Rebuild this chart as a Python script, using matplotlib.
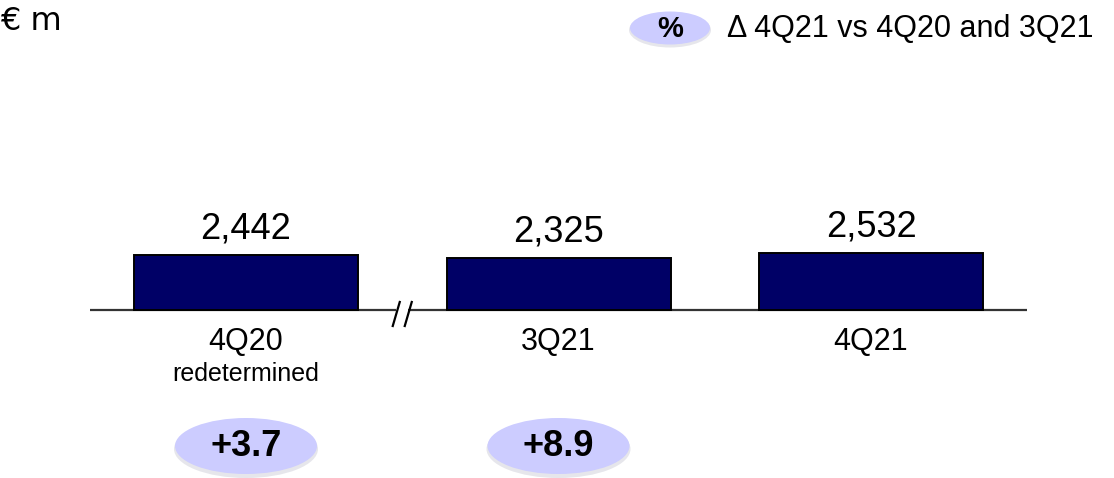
import matplotlib
matplotlib.use("Agg")
import matplotlib.pyplot as plt
from matplotlib.patches import Ellipse
from matplotlib.transforms import blended_transform_factory

# Quarterly figures, € m
categories = ["4Q20", "3Q21", "4Q21"]
subtitles = ["redetermined", "", ""]
values = [2442, 2325, 2532]
value_labels = ["2,442", "2,325", "2,532"]
# Change of 4Q21 versus each earlier quarter, %
deltas = ["+3.7", "+8.9", None]

W, H = 1114, 478
fig = plt.figure(figsize=(W / 100, H / 100), dpi=100)
ax = fig.add_axes([0, 0, 1, 1])
ax.set_axis_off()

plt.rcParams["font.family"] = ["Liberation Sans", "DejaVu Sans"]

# Layout: bar slots 312.5 px apart, baseline 168 px above the bottom edge
slot = 312.5
x0 = 246
units_per_px = 44.6
ax.set_xlim(-x0 / slot, (W - x0) / slot)
ax.set_ylim(-168 * units_per_px, (H - 168) * units_per_px)

xs = list(range(len(categories)))
bars = ax.bar(xs, values, width=224 / slot, color="#000066",
              edgecolor="black", linewidth=1.4, zorder=3)

for x, v, lab in zip(xs, values, value_labels):
    ax.annotate(lab, (x, v), xytext=(0, 6), textcoords="offset points",
                ha="center", va="bottom", fontsize=26, color="black")


# helper: y measured in pixels from the top of the figure
def fy(px):
    return 1 - px / H


bt = blended_transform_factory(ax.transData, ax.transAxes)

# baseline with a break between the first and second bar
brk = 0.5
gap = 6 / slot
ax.plot([-0.5, brk - gap], [0, 0], color="#333333", lw=1.6, zorder=2,
        solid_capstyle="butt")
ax.plot([brk + gap, 2.5], [0, 0], color="#333333", lw=1.6, zorder=2,
        solid_capstyle="butt")
for dx in (-gap, gap):
    ax.plot([brk + dx - 3.5 / slot, brk + dx + 3.5 / slot], [fy(326), fy(302)],
            color="black", lw=1.6, transform=bt, zorder=4)

# category labels
for x, c, s in zip(xs, categories, subtitles):
    ax.text(x, fy(342), c, transform=bt, ha="center", va="center",
            fontsize=22, color="black")
    if s:
        ax.text(x, fy(374), s, transform=bt, ha="center", va="center",
                fontsize=18, color="black")

# delta bubbles
for x, d in zip(xs, deltas):
    if d is None:
        continue
    ax.add_patch(Ellipse((x, fy(449)), 144 / slot, 58 / H, transform=bt,
                         facecolor="#b8b8c8", edgecolor="none", alpha=0.35,
                         zorder=4))
    ax.add_patch(Ellipse((x, fy(446)), 142 / slot, 56 / H, transform=bt,
                         facecolor="#CCCCFF", edgecolor="none", zorder=5))
    ax.text(x, fy(447), d, transform=bt, ha="center", va="center",
            fontsize=26, fontweight="bold", color="black", zorder=6)

# key in the top right
ax.add_patch(Ellipse((670 / W, fy(30)), 82 / W, 35 / H, transform=ax.transAxes,
                     facecolor="#b8b8c8", edgecolor="none", alpha=0.35, zorder=4))
ax.add_patch(Ellipse((670 / W, fy(28)), 80 / W, 33 / H, transform=ax.transAxes,
                     facecolor="#CCCCFF", edgecolor="none", zorder=5))
ax.text(670 / W, fy(29), "%", transform=ax.transAxes, ha="center",
        va="center", fontsize=21, fontweight="bold", zorder=6)
ax.text(727 / W, fy(29), "\u0394 4Q21 vs 4Q20 and 3Q21", transform=ax.transAxes,
        ha="left", va="center", fontsize=22)

# unit label
ax.text(0, fy(21), "\u20ac m", transform=ax.transAxes, ha="left", va="center",
        fontsize=23, family=["DejaVu Sans"])

fig.savefig("out.png", dpi=100)
